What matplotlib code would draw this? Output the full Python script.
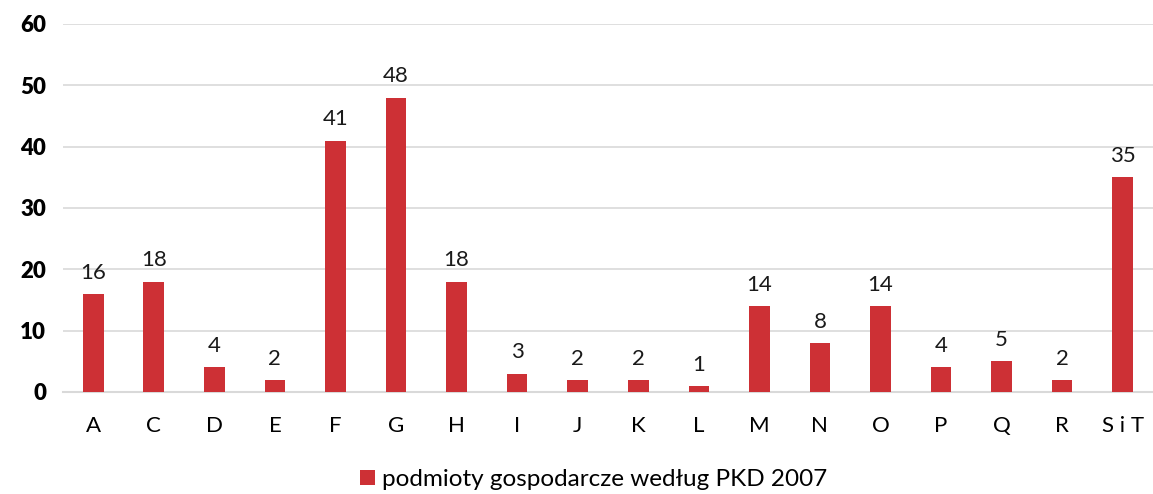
import numpy as np
from matplotlib import pyplot as plt
from matplotlib.patches import Patch

# sections of PKD 2007
categories = ['A', 'C', 'D', 'E', 'F', 'G', 'H', 'I', 'J', 'K', 'L',
              'M', 'N', 'O', 'P', 'Q', 'R', 'S i T']
values = [16, 18, 4, 2, 41, 48, 18, 3, 2, 2, 1, 14, 8, 14, 4, 5, 2, 35]
yticks = [0, 10, 20, 30, 40, 50, 60]
series_name = 'podmioty gospodarcze według PKD 2007'

bar_color = '#CD3035'
grid_color = '#D9D9D9'

plt.rcParams['font.family'] = ['Lato', 'DejaVu Sans']

fig = plt.figure(figsize=(11.53, 4.94), dpi=100)
ax = fig.add_axes([0.0546, 0.2065, 0.9454, 0.745])

x = np.arange(len(categories))
bars = ax.bar(x, values, width=0.34, color=bar_color, zorder=3)

for xi, v in zip(x, values):
    ax.annotate(str(v), (xi, v), xytext=(0, 8), textcoords='offset points',
                ha='center', va='bottom', fontsize=16, color='#1a1a1a')

ax.set_xlim(-0.5, len(categories) - 0.5)
ax.set_ylim(0, 60)
ax.set_yticks(yticks)
ax.set_yticklabels([str(t) for t in yticks], fontsize=16, fontweight='heavy')
ax.set_xticks(x)
ax.set_xticklabels(categories, fontsize=16)
ax.tick_params(axis='both', length=0, colors='#000000')
ax.tick_params(axis='y', pad=12)
ax.tick_params(axis='x', pad=17)

ax.grid(axis='y', color=grid_color, linewidth=1.2, zorder=0)
for side in ['top', 'right', 'left']:
    ax.spines[side].set_visible(False)
ax.spines['bottom'].set_color(grid_color)
ax.spines['bottom'].set_linewidth(1.5)

handle = Patch(facecolor=bar_color, label=series_name)
fig.legend(handles=[handle], loc='lower center', bbox_to_anchor=(0.515, -0.036),
           frameon=False, fontsize=17.5, handlelength=0.6, handleheight=0.6,
           handletextpad=0.3)

fig.savefig('out.png', dpi=100)
